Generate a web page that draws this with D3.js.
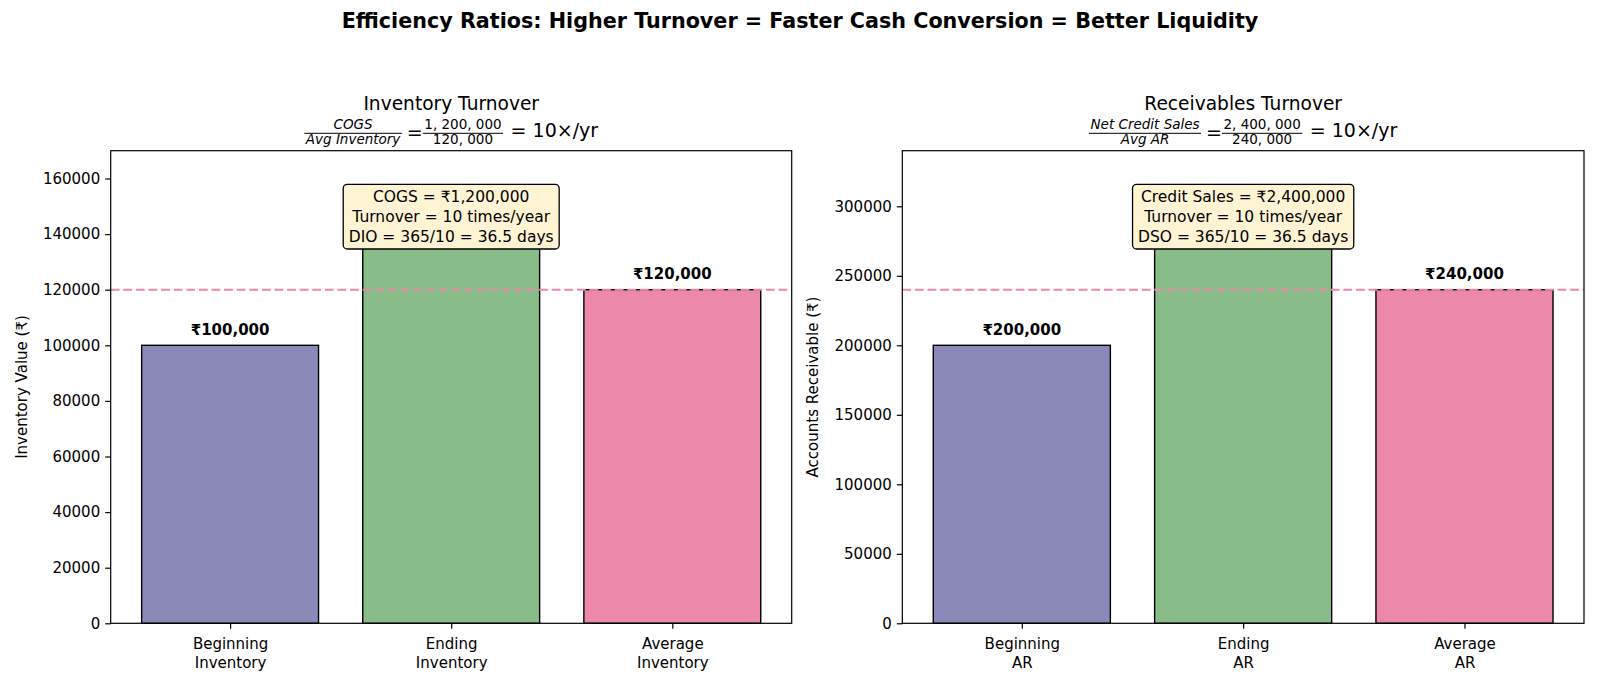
<!DOCTYPE html>
<html>
<head>
<meta charset="utf-8">
<script src="https://cdn.jsdelivr.net/npm/d3@7"></script>
<style>
  body { margin: 0; background: #fff; }
  text { font-family: "DejaVu Sans", sans-serif; fill: #000; }
</style>
</head>
<body>
<svg id="chart" width="1600" height="686"></svg>
<script>
// ---- data ----
const invLabels = ["Beginning\nInventory", "Ending\nInventory", "Average\nInventory"];
const invValues = [100000, 140000, 120000];
const invTicks = [0, 20000, 40000, 60000, 80000, 100000, 120000, 140000, 160000];
const invNote = ["COGS = ₹1,200,000", "Turnover = 10 times/year", "DIO = 365/10 = 36.5 days"];
const invFormula = ["COGS", "Avg Inventory", "1, 200, 000", "120, 000", "= 10×/yr"];

const arLabels = ["Beginning\nAR", "Ending\nAR", "Average\nAR"];
const arValues = [200000, 280000, 240000];
const arTicks = [0, 50000, 100000, 150000, 200000, 250000, 300000];
const arNote = ["Credit Sales = ₹2,400,000", "Turnover = 10 times/year", "DSO = 365/10 = 36.5 days"];
const arFormula = ["Net Credit Sales", "Avg AR", "2, 400, 000", "240, 000", "= 10×/yr"];

const barColors = ["#8a89ba", "#88bc88", "#ec88a9"];

const svg = d3.select('#chart');

// main title
svg.append('text')
  .attr('x', 800).attr('y', 28)
  .attr('text-anchor', 'middle')
  .style('font-weight', 'bold').style('font-size', '20.7px')
  .text('Efficiency Ratios: Higher Turnover = Faster Cash Conversion = Better Liquidity');

function drawPanel(p) {
  const top = 150.7, bottom = 623.3;
  const g = svg.append('g');

  let x = d3.scaleLinear().domain([-0.54, 2.54]).range([p.left, p.right]);
  let y = d3.scaleLinear().domain([0, p.ymax]).range([bottom, top]);
  const bw = 0.8;
  const avg = p.values[2];

  // bars
  g.selectAll('rect.bar')
    .data(p.values)
    .enter()
    .append('rect')
      .attr('class', 'bar')
      .attr('x', (d, i) => x(i - bw / 2))
      .attr('width', x(bw) - x(0))
      .attr('y', d => y(d))
      .attr('height', d => y(0) - y(d))
      .attr('fill', (d, i) => barColors[i])
      .attr('stroke', '#000')
      .attr('stroke-width', 1.4);

  // value labels (the middle one sits under the note box, so it is not drawn)
  g.selectAll('text.val')
    .data(p.values.map((v, i) => ({ v, i })).filter(d => d.i !== 1))
    .enter()
    .append('text')
      .attr('class', 'val')
      .attr('x', d => x(d.i))
      .attr('y', d => y(d.v) - 10.5)
      .attr('text-anchor', 'middle')
      .style('font-weight', 'bold').style('font-size', '15px')
      .text(d => '₹' + d3.format(',')(d.v));

  // average line
  g.append('line')
    .attr('x1', p.left).attr('x2', p.right)
    .attr('y1', y(avg)).attr('y2', y(avg))
    .attr('stroke', '#ec88a9').attr('stroke-width', 2)
    .attr('stroke-dasharray', '8.8,3.8');

  // y axis
  const yAxis = g.append('g')
    .attr('transform', 'translate(' + p.left + ',0)')
    .call(d3.axisLeft(y).tickValues(p.ticks).tickFormat(d3.format('d')).tickSize(5.5).tickPadding(5));
  yAxis.select('.domain').remove();
  yAxis.selectAll('text').style('font-size', '15px').style('font-family', '"DejaVu Sans", sans-serif');
  yAxis.selectAll('line').attr('stroke', '#000').attr('stroke-width', 1.2);

  // x axis
  const xAxis = g.append('g')
    .attr('transform', 'translate(0,' + bottom + ')')
    .call(d3.axisBottom(x).tickValues([0, 1, 2]).tickSize(5.5).tickFormat(''));
  xAxis.select('.domain').remove();
  xAxis.selectAll('line').attr('stroke', '#000').attr('stroke-width', 1.2);
  xAxis.selectAll('.tick').each(function(d) {
    const lines = p.labels[d].split('\n');
    const t = d3.select(this).select('text')
      .attr('y', 0).attr('dy', null)
      .style('font-size', '15px').style('font-family', '"DejaVu Sans", sans-serif');
    lines.forEach((s, k) => {
      t.append('tspan').attr('x', 0).attr('y', 25.5 + k * 19.5).text(s);
    });
  });

  // frame
  g.append('rect')
    .attr('x', p.left).attr('y', top)
    .attr('width', p.right - p.left).attr('height', bottom - top)
    .attr('fill', 'none').attr('stroke', '#000').attr('stroke-width', 1.2);

  // y label
  g.append('text')
    .attr('transform', 'translate(' + p.ylabelX + ',' + ((top + bottom) / 2) + ') rotate(-90)')
    .attr('text-anchor', 'middle')
    .style('font-size', '15px')
    .text(p.ylabel);

  // annotation box
  const cx = x(1);
  const boxTop = top + 33.6;
  const note = g.append('g');
  const texts = p.note.map((s, k) => note.append('text')
    .attr('x', cx).attr('y', boxTop + 18 + k * 19.7)
    .attr('text-anchor', 'middle')
    .style('font-size', '15.5px')
    .text(s));
  const maxW = d3.max(texts, t => t.node().getComputedTextLength());
  note.insert('rect', 'text')
    .attr('x', cx - maxW / 2 - 5.5).attr('y', boxTop)
    .attr('width', maxW + 11).attr('height', 64.7)
    .attr('rx', 4).attr('ry', 4)
    .attr('fill', '#fef4d4').attr('stroke', '#000').attr('stroke-width', 1.3);

  // titles
  const mid = (p.left + p.right) / 2;
  g.append('text')
    .attr('x', mid).attr('y', 109.5)
    .attr('text-anchor', 'middle')
    .style('font-size', '18.6px')
    .text(p.title);

  // formula
  const f = g.append('g');
  const barY = 133.3;
  let cursor = 0;
  function frac(num, den, italic) {
    const n = f.append('text').attr('y', barY - 4).style('font-size', '13.5px')
      .style('font-style', italic ? 'italic' : 'normal').attr('text-anchor', 'middle').text(num);
    const d = f.append('text').attr('y', barY + 11).style('font-size', '13.5px')
      .style('font-style', italic ? 'italic' : 'normal').attr('text-anchor', 'middle').text(den);
    const w = Math.max(n.node().getComputedTextLength(), d.node().getComputedTextLength()) + 3;
    n.attr('x', cursor + w / 2);
    d.attr('x', cursor + w / 2);
    f.append('line').attr('x1', cursor).attr('x2', cursor + w)
      .attr('y1', barY).attr('y2', barY).attr('stroke', '#000').attr('stroke-width', 1);
    cursor += w;
  }
  function word(s, gap, base) {
    cursor += gap;
    const t = f.append('text').attr('x', cursor).attr('y', base).style('font-size', '19px').text(s);
    cursor += t.node().getComputedTextLength();
  }
  frac(p.formula[0], p.formula[1], true);
  word('=', 5, barY + 6);
  frac(p.formula[2], p.formula[3], false);
  word(p.formula[4], 7.5, 137);
  f.attr('transform', 'translate(' + (mid - cursor / 2) + ',0)');
}

drawPanel({
  left: 110.7, right: 791.7, ymax: 170000,
  values: invValues, labels: invLabels, ticks: invTicks, note: invNote, formula: invFormula,
  title: 'Inventory Turnover', ylabel: 'Inventory Value (₹)', ylabelX: 27
});
drawPanel({
  left: 902.3, right: 1584, ymax: 340000,
  values: arValues, labels: arLabels, ticks: arTicks, note: arNote, formula: arFormula,
  title: 'Receivables Turnover', ylabel: 'Accounts Receivable (₹)', ylabelX: 818
});
</script>
</body>
</html>
